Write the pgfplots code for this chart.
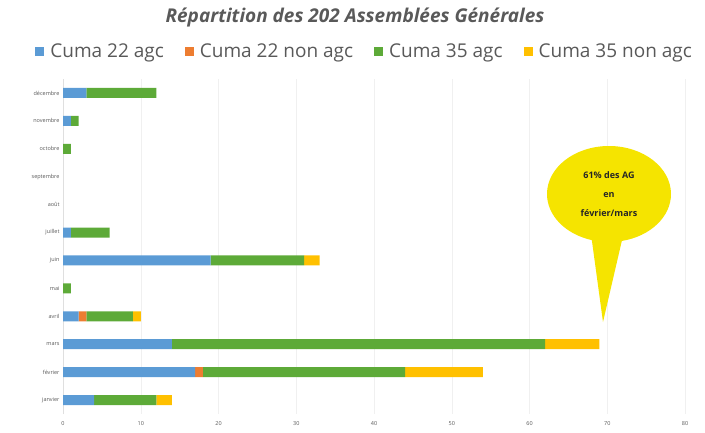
\documentclass[border=0pt]{standalone}
\usepackage{pgfplots}
\pgfplotsset{compat=1.18}
\usepackage{fontspec}
\setmainfont{Open Sans}
\usetikzlibrary{shapes.callouts}
\definecolor{cblue}{HTML}{5B9BD5}
\definecolor{corange}{HTML}{ED7D31}
\definecolor{cgreen}{HTML}{5DAA38}
\definecolor{cyellow}{HTML}{FFC000}
\definecolor{txtgray}{HTML}{595959}
\definecolor{callout}{HTML}{F5E400}
\begin{document}
\begin{tikzpicture}[x=1pt,y=1pt]
\useasboundingbox (0,0) rectangle (705,-432);
\node[font=\bfseries\itshape\fontsize{19}{22}\selectfont, text=txtgray] at (355,-18) {Répartition des 202 Assemblées Générales};
\begin{axis}[
  at={(63pt,-414pt)}, anchor=south west,
  scale only axis, width=622pt, height=335pt,
  xbar stacked, bar width=10pt,
  xmin=0, xmax=80, ymin=-0.5, ymax=11.5,
  xtick={0,10,...,80},
  ytick={0,...,11},
  yticklabels={janvier,février,mars,avril,mai,juin,juillet,août,septembre,octobre,novembre,décembre},
  tick label style={font=\fontsize{5.5}{6}\selectfont, text=txtgray},
  /pgf/number format/assume math mode=true,
  xmajorgrids, grid style={draw=gray!12},
  axis x line*=bottom, axis y line*=left,
  x axis line style={draw=none},
  y axis line style={draw=gray!25},
  major tick length=0pt,
  xticklabel style={yshift=-4pt},
  legend style={at={(0.485,1.083)}, anchor=center, draw=none, fill=none,
    legend columns=4, font=\fontsize{19}{20}\selectfont, text=txtgray,
    /tikz/every odd column/.append style={column sep=4pt},
    /tikz/every even column/.append style={column sep=19pt}},
  legend image code/.code={\fill[#1] (0pt,-4.5pt) rectangle (9pt,4.5pt);},
]
\addplot[fill=cblue, draw=none] coordinates {(4,0) (17,1) (14,2) (2,3) (0,4) (19,5) (1,6) (0,7) (0,8) (0,9) (1,10) (3,11)};
\addplot[fill=corange, draw=none] coordinates {(0,0) (1,1) (0,2) (1,3) (0,4) (0,5) (0,6) (0,7) (0,8) (0,9) (0,10) (0,11)};
\addplot[fill=cgreen, draw=none] coordinates {(8,0) (26,1) (48,2) (6,3) (1,4) (12,5) (5,6) (0,7) (0,8) (1,9) (1,10) (9,11)};
\addplot[fill=cyellow, draw=none] coordinates {(2,0) (10,1) (7,2) (1,3) (0,4) (2,5) (0,6) (0,7) (0,8) (0,9) (0,10) (0,11)};
\legend{Cuma 22 agc, Cuma 22 non agc, Cuma 35 agc, Cuma 35 non agc}
\end{axis}
\node[ellipse callout, fill=callout, minimum width=124pt, minimum height=96pt,
  callout absolute pointer={(603,-322)}, callout pointer arc=28,
  align=center, font=\bfseries\fontsize{9}{19}\selectfont, text=black!85] at (609,-194) {61\% des AG\\en\\février/mars};
\end{tikzpicture}
\end{document}
